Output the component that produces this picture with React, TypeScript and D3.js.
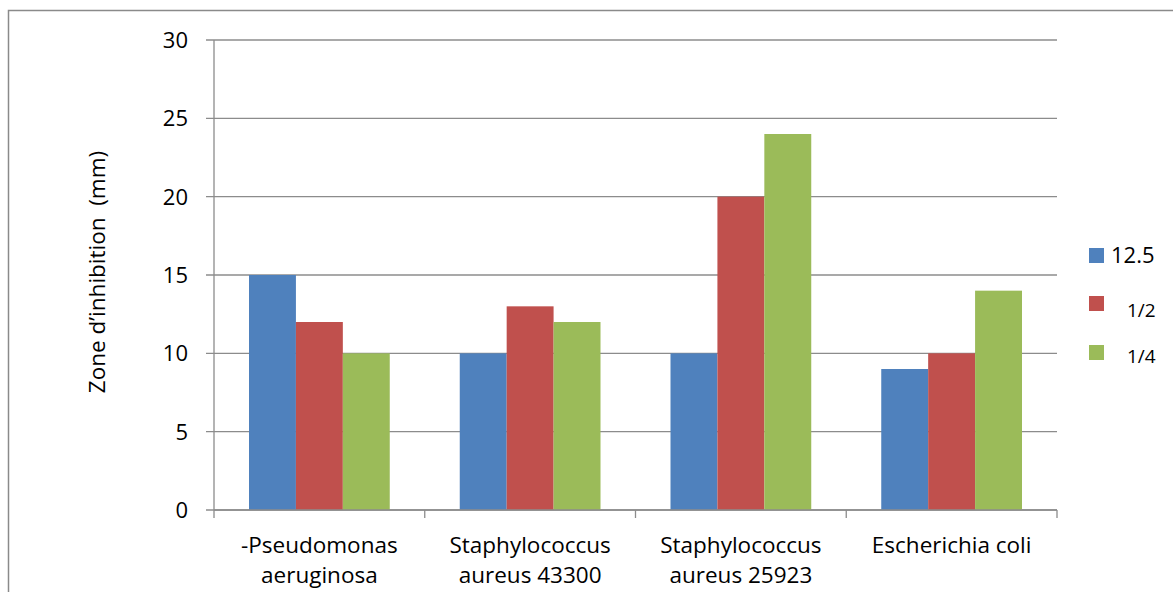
import React from "react";
import * as d3 from "d3";

const categories = [
  ["-Pseudomonas", "aeruginosa"],
  ["Staphylococcus", "aureus 43300"],
  ["Staphylococcus", "aureus 25923"],
  ["Escherichia coli"],
];
const seriesNames = ["12.5", "1/2", "1/4"];
const s125 = [15, 10, 10, 9];
const sHalf = [12, 13, 20, 10];
const sQuarter = [10, 12, 24, 14];
const yTicks = [0, 5, 10, 15, 20, 25, 30];
const colors = ["#4F81BD", "#C0504D", "#9BBB59"];

export default function App() {
  const W = 1173, H = 592;
  const left = 214, right = 1057, top = 40, bottom = 510;
  const series = [s125, sHalf, sQuarter];
  const y = d3.scaleLinear().domain([0, 30]).range([bottom, top]);
  const x0 = d3.scaleBand<number>().domain(d3.range(categories.length)).range([left, right]).paddingInner(0).paddingOuter(0);
  const bw = x0.bandwidth();
  const inner = d3.scaleBand<number>().domain([0, 1, 2]).range([35, bw - 35]);
  const font = "Open Sans, sans-serif";
  const grid = "#8c8c8c";
  const legendTop = [248, 296, 345];
  const legendBase = [263, 317, 363];
  return (
    <svg width={W} height={H} style={{ position: "absolute", left: 0, top: 0 }}>
      <rect x={0} y={0} width={W} height={H} fill="#fff" />
      <path d={`M${W},10.5 H8.5 V${H}`} fill="none" stroke="#8a8a8a" strokeWidth={1.5} />
      {yTicks.map((t) => (
        <g key={t}>
          <line x1={206} x2={right} y1={y(t)} y2={y(t)} stroke={grid} strokeWidth={1.3} />
          <text x={188} y={y(t)} dy="0.36em" textAnchor="end" fontFamily={font} fontSize={22} fill="#000">{t}</text>
        </g>
      ))}
      {categories.map((c, i) => (
        <g key={i}>
          {series.map((s, j) => (
            <rect key={j} x={(x0(i) as number) + (inner(j) as number)} y={y(s[i])} width={inner.bandwidth()} height={bottom - y(s[i])} fill={colors[j]} />
          ))}
        </g>
      ))}
      <line x1={left} x2={left} y1={top} y2={bottom} stroke={grid} strokeWidth={1.3} />
      <line x1={left} x2={right} y1={bottom} y2={bottom} stroke={grid} strokeWidth={1.3} />
      {d3.range(categories.length + 1).map((i) => {
        const xx = left + i * bw;
        return <line key={i} x1={xx} x2={xx} y1={bottom} y2={518} stroke={grid} strokeWidth={1.3} />;
      })}
      {categories.map((c, i) => (
        <text key={i} x={(x0(i) as number) + bw / 2} y={553} textAnchor="middle" fontFamily={font} fontSize={22.5} fill="#000">
          {c.map((line, k) => (
            <tspan key={k} x={(x0(i) as number) + bw / 2} dy={k === 0 ? 0 : 30}>{line}</tspan>
          ))}
        </text>
      ))}
      <text transform={`translate(105,272) rotate(-90)`} textAnchor="middle" fontFamily={font} fontSize={22.5} fill="#000" style={{ whiteSpace: "pre" }}>
        Zone d’inhibition  (mm)
      </text>
      {seriesNames.map((n, j) => (
        <g key={n}>
          <rect x={1089} y={legendTop[j]} width={15} height={15} fill={colors[j]} />
          <text x={j === 0 ? 1111 : 1127} y={legendBase[j]} fontFamily={font} fontSize={j === 0 ? 22 : 19} fill="#000">{n}</text>
        </g>
      ))}
    </svg>
  );
}
